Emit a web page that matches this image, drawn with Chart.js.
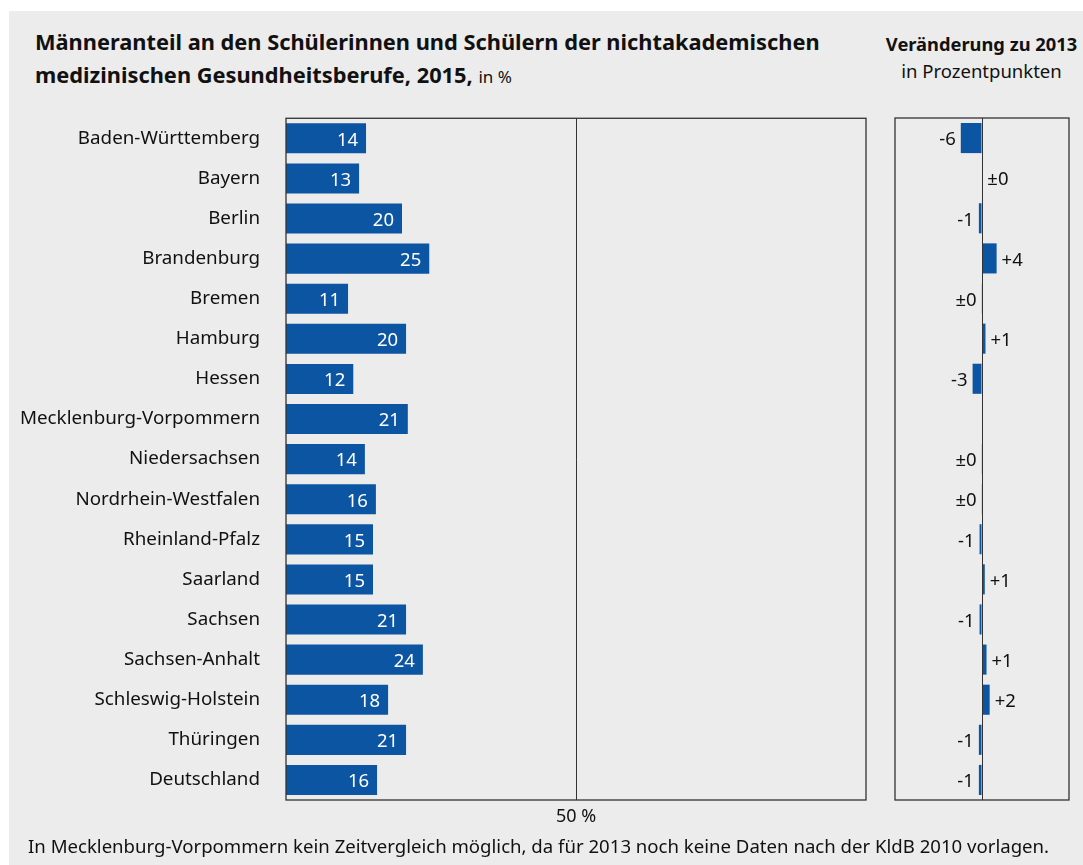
<!DOCTYPE html>
<html lang="de">
<head>
<meta charset="utf-8">
<script src="https://cdn.jsdelivr.net/npm/chart.js@4"></script>
<style>
    html, body { margin: 0; padding: 0; background: #fff; }
    body { width: 1083px; height: 865px; position: relative; overflow: hidden; font-family: 'Noto Sans', sans-serif; color: #111; }
    .panel { position: absolute; left: 9px; top: 11px; right: 0; bottom: 0; background: #ececec; }
    .title { position: absolute; left: 35px; top: 25px; font-size: 21.8px; font-weight: bold; line-height: 33px; }
    .title span { font-weight: normal; font-size: 17px; }
    .side { position: absolute; left: 880px; width: 203px; top: 30px; text-align: center; font-size: 18.5px; line-height: 27px; }
    .side b { font-size: 18.3px; }
    .note { position: absolute; left: 28px; top: 833px; font-size: 18.6px; white-space: nowrap; }
    #wrapLeft { position: absolute; left: 0; top: 89px; width: 880px; height: 751px; }
    #wrapRight { position: absolute; left: 880px; top: 100px; width: 203px; height: 740px; }
</style>
</head>
<body>
<div class="panel"></div>
<div class="title">Männeranteil an den Schülerinnen und Schülern der nichtakademischen<br>medizinischen Gesundheitsberufe, 2015, <span>in %</span></div>
<div class="side"><b>Veränderung zu 2013</b><br>in Prozentpunkten</div>
<div id="wrapLeft"><canvas id="shareChart"></canvas></div>
<div id="wrapRight"><canvas id="changeChart"></canvas></div>
<div class="note">In Mecklenburg-Vorpommern kein Zeitvergleich möglich, da für 2013 noch keine Daten nach der KldB 2010 vorlagen.</div>

<script>
// Data
const states = ['Baden-Württemberg', 'Bayern', 'Berlin', 'Brandenburg', 'Bremen', 'Hamburg', 'Hessen',
    'Mecklenburg-Vorpommern', 'Niedersachsen', 'Nordrhein-Westfalen', 'Rheinland-Pfalz', 'Saarland',
    'Sachsen', 'Sachsen-Anhalt', 'Schleswig-Holstein', 'Thüringen', 'Deutschland'];
const shareValues = [13.8, 12.6, 20.0, 24.7, 10.7, 20.7, 11.6, 21.0, 13.6, 15.5, 15.0, 15.0, 20.7, 23.6, 17.6, 20.7, 15.7];
const shareLabels = ['14', '13', '20', '25', '11', '20', '12', '21', '14', '16', '15', '15', '21', '24', '18', '21', '16'];
const changeValues = [-6.1, 0.1, -0.9, 4.2, -0.1, 1.0, -2.7, null, -0.1, -0.1, -0.7, 0.8, -0.7, 1.3, 2.2, -0.9, -0.9];
const changeLabels = ['-6', '±0', '-1', '+4', '±0', '+1', '-3', '', '±0', '±0', '-1', '+1', '-1', '+1', '+2', '-1', '-1'];
const shareTicks = [50];

const BLUE = '#0b55a3';
const LINE = '#333333';
const FONT = 'Noto Sans';

/**
 * Frame around the plot area
 */
const framePlugin = {
    id: 'frame',
    afterDraw(chart) {
        const a = chart.chartArea;
        const ctx = chart.ctx;
        ctx.save();
        ctx.strokeStyle = LINE;
        ctx.lineWidth = 1.3;
        ctx.strokeRect(a.left, a.top, a.right - a.left, a.bottom - a.top);
        ctx.restore();
    }
};

/**
 * Value labels next to / inside the bars
 */
function labelPlugin(texts, inside) {
    return {
        id: 'valueLabels',
        afterDatasetsDraw(chart) {
            const ctx = chart.ctx;
            const meta = chart.getDatasetMeta(0);
            const values = chart.data.datasets[0].data;
            ctx.save();
            ctx.font = '18.5px "' + FONT + '"';
            ctx.textBaseline = 'middle';
            meta.data.forEach((bar, i) => {
                const text = texts[i];
                if (!text) return;
                if (inside) {
                    ctx.fillStyle = '#ffffff';
                    ctx.textAlign = 'right';
                    ctx.fillText(text, bar.x - 8, bar.y + 2);
                } else {
                    ctx.fillStyle = '#111111';
                    if (values[i] >= 0) {
                        ctx.textAlign = 'left';
                        ctx.fillText(text, bar.x + 5, bar.y + 2);
                    } else {
                        ctx.textAlign = 'right';
                        ctx.fillText(text, bar.x - 5, bar.y + 2);
                    }
                }
            });
            ctx.restore();
        }
    };
}

function initShareChart() {
    const ctx = document.getElementById('shareChart');
    new Chart(ctx, {
        type: 'bar',
        data: {
            labels: states,
            datasets: [{
                data: shareValues,
                backgroundColor: BLUE,
                barPercentage: 0.75,
                categoryPercentage: 1
            }]
        },
        options: {
            indexAxis: 'y',
            responsive: true,
            maintainAspectRatio: false,
            animation: false,
            layout: { padding: { top: 1, right: 14, left: 0, bottom: 0 } },
            plugins: { legend: { display: false }, tooltip: { enabled: false } },
            scales: {
                x: {
                    min: 0,
                    max: 100,
                    afterBuildTicks: (axis) => { axis.ticks = shareTicks.map(v => ({ value: v })); },
                    afterFit: (axis) => { axis.height = 40; },
                    ticks: {
                        padding: 6,
                        color: '#111',
                        font: { size: 18, family: FONT },
                        callback: (v) => v + ' %'
                    },
                    grid: { color: LINE, lineWidth: 1, drawTicks: false },
                    border: { display: false }
                },
                y: {
                    afterFit: (axis) => { axis.width = 286; },
                    ticks: {
                        padding: 18,
                        color: '#111',
                        font: { size: 18.8, family: FONT }
                    },
                    grid: { display: false },
                    border: { display: false }
                }
            }
        },
        plugins: [framePlugin, labelPlugin(shareLabels, true)]
    });
}

function initChangeChart() {
    const ctx = document.getElementById('changeChart');
    new Chart(ctx, {
        type: 'bar',
        data: {
            labels: states,
            datasets: [{
                data: changeValues,
                backgroundColor: BLUE,
                barPercentage: 0.75,
                categoryPercentage: 1
            }]
        },
        options: {
            indexAxis: 'y',
            responsive: true,
            maintainAspectRatio: false,
            animation: false,
            layout: { padding: { top: 18, right: 14, left: 15, bottom: 0 } },
            plugins: { legend: { display: false }, tooltip: { enabled: false } },
            scales: {
                x: {
                    min: -25,
                    max: 25,
                    afterBuildTicks: (axis) => { axis.ticks = [{ value: 0 }]; },
                    afterFit: (axis) => { axis.height = 40; },
                    ticks: { display: false },
                    grid: { color: LINE, lineWidth: 1, drawTicks: false, z: 1 },
                    border: { display: false }
                },
                y: {
                    display: false
                }
            }
        },
        plugins: [framePlugin, labelPlugin(changeLabels, false)]
    });
}

document.addEventListener('DOMContentLoaded', function() {
    initShareChart();
    initChangeChart();
});
</script>
</body>
</html>
